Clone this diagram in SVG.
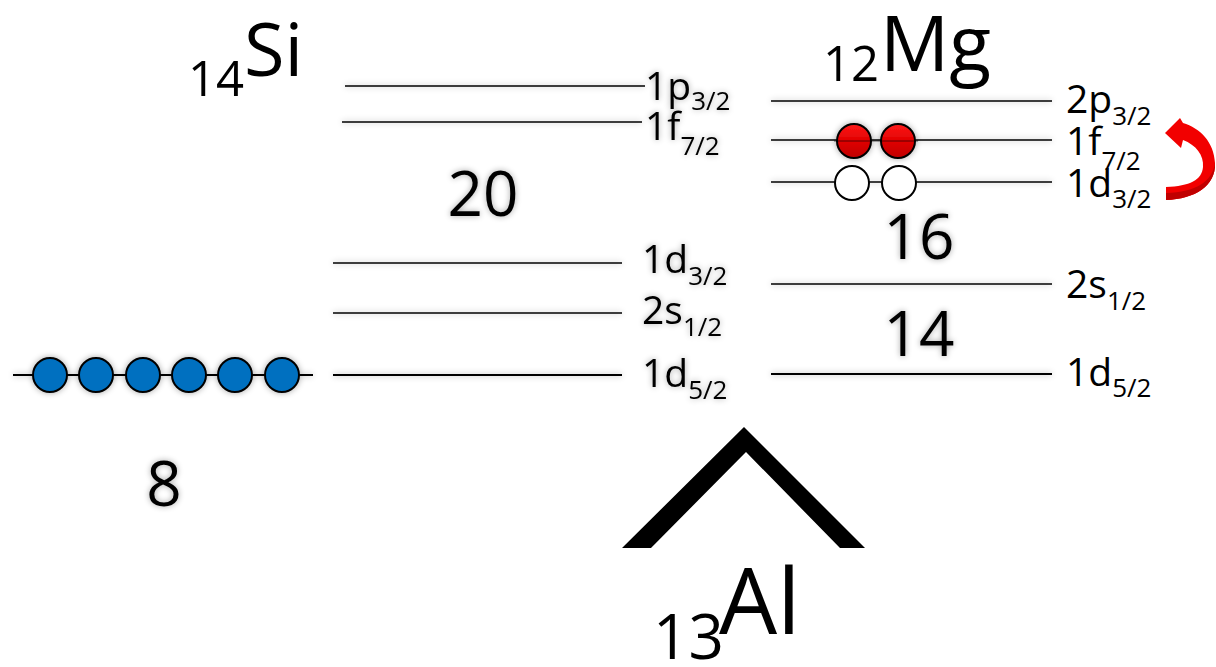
<svg xmlns="http://www.w3.org/2000/svg" width="1216" height="667" viewBox="0 0 1216 667">
<defs>
<filter id="glow" x="-20%" y="-50%" width="140%" height="200%">
<feGaussianBlur in="SourceAlpha" stdDeviation="3"/>
<feComponentTransfer><feFuncA type="linear" slope="0.35"/></feComponentTransfer>
<feMerge><feMergeNode/><feMergeNode in="SourceGraphic"/></feMerge>
</filter>
<linearGradient id="red" x1="0" y1="0" x2="0" y2="1">
<stop offset="0" stop-color="#ff1a1a"/><stop offset="0.5" stop-color="#e00000"/><stop offset="1" stop-color="#c00000"/>
</linearGradient>
</defs>
<style>
text{font-family:"Open Sans","Liberation Sans",sans-serif;fill:#000}
.lvl{stroke:#000;stroke-width:1.5}
.thick{stroke-width:2.2}
.lab{font-size:39px}
.sub{font-size:26px}
.num{font-size:62px}
</style>
<rect width="1216" height="667" fill="#fff"/>
<g id="connectors">
<g filter="url(#glow)">
<line class="lvl" x1="345" y1="86" x2="645" y2="86"/>
<line class="lvl" x1="342" y1="122" x2="642" y2="122"/>
<line class="lvl" x1="333" y1="263" x2="622" y2="263"/>
<line class="lvl" x1="333" y1="313" x2="622" y2="313"/>
<line class="lvl thick" x1="333" y1="375" x2="622" y2="375"/>
<line class="lvl" x1="771" y1="101" x2="1052" y2="101"/>
<line class="lvl" x1="771" y1="140" x2="1052" y2="140"/>
<line class="lvl" x1="771" y1="182" x2="1052" y2="182"/>
<line class="lvl" x1="771" y1="284" x2="1052" y2="284"/>
<line class="lvl thick" x1="771" y1="374" x2="1052" y2="374"/>
</g>
<path d="M1166,200 C1195,199 1216,186 1215,163 C1214,142 1200,128 1183,123 L1180,118 L1165,133 L1181,148 L1183,140 C1196,145 1204,155 1203,167 C1202,180 1190,186 1166,187 Z" fill="#f20000"/>
<path d="M1166,200 C1195,199 1216,186 1215,163 C1212,182 1196,192 1166,193 Z" fill="#c00000"/>
</g>
<g id="si-label">
<text x="188" y="96" font-size="49">14</text>
<text x="244" y="76" font-size="74">Si</text>
</g>
<g id="mg-label">
<text x="823" y="81" font-size="49">12</text>
<text x="880" y="71" font-size="77">Mg</text>
</g>
<g id="al-label">
<text x="653" y="659" font-size="62">13</text>
<text x="719" y="634" font-size="92">Al</text>
</g>
<g id="al-chevron">
<polygon points="622,548 744,427 865,548 840,548 746,452 651,548" fill="#000"/>
</g>
<g id="si-levels" filter="url(#glow)">
<text x="645" y="100" class="lab">1p<tspan class="sub" dy="10">3/2</tspan></text>
<text x="645" y="140" class="lab">1f<tspan class="sub" dy="15">7/2</tspan></text>
<text x="642" y="273" class="lab">1d<tspan class="sub" dy="12">3/2</tspan></text>
<text x="642" y="324" class="lab">2s<tspan class="sub" dy="12">1/2</tspan></text>
<text x="642" y="387" class="lab">1d<tspan class="sub" dy="12">5/2</tspan></text>
</g>
<g id="mg-levels">
<text x="1066" y="113" class="lab">2p<tspan class="sub" dy="12">3/2</tspan></text>
<text x="1066" y="155" class="lab">1f<tspan class="sub" dy="15">7/2</tspan></text>
<text x="1066" y="197" class="lab">1d<tspan class="sub" dy="11">3/2</tspan></text>
<text x="1066" y="298" class="lab">2s<tspan class="sub" dy="12">1/2</tspan></text>
<text x="1066" y="386" class="lab">1d<tspan class="sub" dy="11">5/2</tspan></text>
</g>
<g id="magic-numbers" filter="url(#glow)">
<text x="483" y="216" class="num" text-anchor="middle">20</text>
<text x="919" y="259" class="num" text-anchor="middle">16</text>
<text x="919" y="356" class="num" text-anchor="middle">14</text>
<text x="164" y="506" class="num" text-anchor="middle">8</text>
</g>
<g id="si-nucleons" filter="url(#glow)">
<line x1="13" y1="375" x2="313" y2="375" stroke="#000" stroke-width="2"/>
<g fill="#0070c0" stroke="#000" stroke-width="2">
<circle cx="50" cy="375" r="17"/>
<circle cx="96" cy="375" r="17"/>
<circle cx="143" cy="375" r="17"/>
<circle cx="189" cy="375" r="17"/>
<circle cx="235" cy="375" r="17"/>
<circle cx="282" cy="375" r="17"/>
</g>
</g>
<g id="mg-nucleons">
<g fill="url(#red)" stroke="#000" stroke-width="2" filter="url(#glow)">
<circle cx="854" cy="141" r="17"/>
<circle cx="898" cy="141" r="17"/>
</g>
<line x1="834" y1="141" x2="918" y2="141" stroke="#000" stroke-width="1.2" opacity="0.6"/>
<g fill="#fff" stroke="#000" stroke-width="2">
<circle cx="852" cy="183" r="17"/>
<circle cx="899" cy="183" r="17"/>
</g>
</g>
</svg>
